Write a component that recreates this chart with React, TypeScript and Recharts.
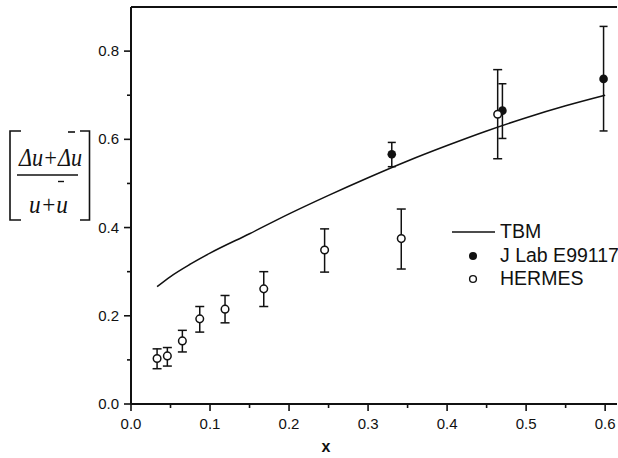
import {
  ComposedChart,
  Line,
  Scatter,
  ErrorBar,
  XAxis,
  YAxis,
  ReferenceLine,
  Legend,
} from "recharts";

// TBM model curve
const tbmX = [0.033, 0.05, 0.075, 0.1, 0.15, 0.2, 0.25, 0.3, 0.35, 0.4, 0.45, 0.5, 0.55, 0.6];
const tbmY = [0.266, 0.289, 0.317, 0.342, 0.386, 0.431, 0.473, 0.513, 0.551, 0.586, 0.619, 0.649, 0.676, 0.7];

// HERMES (open circles)
const hermesX = [0.033, 0.046, 0.065, 0.087, 0.119, 0.168, 0.245, 0.342, 0.464];
const hermesY = [0.103, 0.109, 0.143, 0.193, 0.215, 0.261, 0.349, 0.375, 0.657];
const hermesLow = [0.08, 0.086, 0.118, 0.163, 0.184, 0.221, 0.299, 0.306, 0.556];
const hermesHigh = [0.125, 0.128, 0.167, 0.221, 0.246, 0.3, 0.397, 0.442, 0.758];

// J Lab E99117 (filled circles)
const jlabX = [0.33, 0.47, 0.598];
const jlabY = [0.566, 0.665, 0.737];
const jlabLow = [0.538, 0.602, 0.619];
const jlabHigh = [0.593, 0.726, 0.856];

const xTicks = [0, 0.05, 0.1, 0.15, 0.2, 0.25, 0.3, 0.35, 0.4, 0.45, 0.5, 0.55, 0.6];
const yTicks = [0, 0.1, 0.2, 0.3, 0.4, 0.5, 0.6, 0.7, 0.8];

const legendItems = ["TBM", "J Lab E99117", "HERMES"];

const tbmData = tbmX.map((x, i) => ({ x, y: tbmY[i] }));
const toPoints = (xs: number[], ys: number[], lo: number[], hi: number[]) =>
  xs.map((x, i) => ({ x, y: ys[i], err: [ys[i] - lo[i], hi[i] - ys[i]] }));
const hermesData = toPoints(hermesX, hermesY, hermesLow, hermesHigh);
const jlabData = toPoints(jlabX, jlabY, jlabLow, jlabHigh);

const INK = "#111";
const SANS = "Arial, 'Liberation Sans', Helvetica, sans-serif";
const SERIF = "'Liberation Serif', 'Times New Roman', serif";

const isMajor = (v: number) => Math.abs(v * 10 - Math.round(v * 10)) < 1e-6;

const XTick = ({ x, y, payload }: any) => {
  const major = isMajor(payload.value);
  return (
    <g>
      <line x1={x} y1={y} x2={x} y2={y + (major ? 7 : 4)} stroke={INK} strokeWidth={1.6} />
      {major && (
        <text x={x} y={y + 25} textAnchor="middle" fontSize={15} fontFamily={SANS} fill={INK}>
          {payload.value.toFixed(1)}
        </text>
      )}
    </g>
  );
};

const YTick = ({ x, y, payload }: any) => {
  const major = isMajor(payload.value / 2);
  return (
    <g>
      <line x1={x} y1={y} x2={x - (major ? 7 : 4)} y2={y} stroke={INK} strokeWidth={1.6} />
      {major && (
        <text x={x - 12} y={y + 5} textAnchor="end" fontSize={15} fontFamily={SANS} fill={INK}>
          {payload.value.toFixed(1)}
        </text>
      )}
    </g>
  );
};

// bracketed ratio (Δu+Δū)/(u+ū) used as y-axis title
const YLabel = () => (
  <g fontFamily={SERIF} fill={INK} fontStyle="italic">
    <path d="M21,131 H10 V220 H21" fill="none" stroke={INK} strokeWidth={1.6} />
    <path d="M80,131 H89.5 V220 H80" fill="none" stroke={INK} strokeWidth={1.6} />
    <text x={50.5} y={166} fontSize={25} textAnchor="middle" textLength={63} lengthAdjust="spacingAndGlyphs">
      Δu+Δu
    </text>
    <line x1={68} x2={75} y1={132} y2={132} stroke={INK} strokeWidth={1.6} />
    <line x1={17} x2={78} y1={175} y2={175} stroke={INK} strokeWidth={1.5} />
    <line x1={58} x2={64} y1={181.5} y2={181.5} stroke={INK} strokeWidth={1.4} />
    <text x={48.5} y={212.5} fontSize={25} textAnchor="middle" textLength={39} lengthAdjust="spacingAndGlyphs">
      u+u
    </text>
  </g>
);

const XLabel = () => (
  <text x={326} y={452} textAnchor="middle" fontSize={16} fontWeight="bold" fontFamily={SANS} fill={INK}>
    x
  </text>
);

const LegendBox = () => (
  <div style={{ fontFamily: SANS, fontSize: 19.5, color: INK, lineHeight: "23.5px" }}>
    {legendItems.map((name, i) => (
      <div key={name} style={{ display: "flex", alignItems: "center", height: 23.5 }}>
        <svg width={48} height={23.5}>
          {i === 0 && <line x1={0} x2={43} y1={12} y2={12} stroke={INK} strokeWidth={1.5} />}
          {i === 1 && <circle cx={21} cy={12} r={4} fill={INK} />}
          {i === 2 && <circle cx={21} cy={12} r={3.4} fill="#fff" stroke={INK} strokeWidth={1.4} />}
        </svg>
        <span>{name}</span>
      </div>
    ))}
  </div>
);

const OpenDot = (p: any) => (
  <circle cx={p.cx} cy={p.cy} r={3.8} fill="#fff" stroke={INK} strokeWidth={1.5} />
);
const FilledDot = (p: any) => <circle cx={p.cx} cy={p.cy} r={4.3} fill={INK} />;

export default function App() {
  return (
    <div
      style={{
        position: "absolute",
        left: 0,
        top: 0,
        width: 618,
        height: 458,
        background: "#fff",
        overflow: "hidden",
      }}
    >
      <ComposedChart width={618} height={458} margin={{ top: 7, right: 1, bottom: 0, left: 0 }}>
        <XAxis
          type="number"
          dataKey="x"
          domain={[0, 0.615]}
          ticks={xTicks}
          interval={0}
          height={54}
          tickLine={false}
          tick={<XTick />}
          tickSize={0}
          tickMargin={0}
          stroke={INK}
          axisLine={{ stroke: INK, strokeWidth: 2 }}
          label={{ content: () => <XLabel /> }}
        />
        <YAxis
          type="number"
          dataKey="y"
          domain={[0, 0.9]}
          ticks={yTicks}
          interval={0}
          width={131}
          tickLine={false}
          tick={<YTick />}
          tickSize={0}
          tickMargin={0}
          stroke={INK}
          axisLine={{ stroke: INK, strokeWidth: 2 }}
          label={{ content: () => <YLabel /> }}
        />
        {/* top frame line */}
        <ReferenceLine y={0.9} stroke={INK} strokeWidth={2} ifOverflow="visible" />
        <Line
          data={tbmData}
          dataKey="y"
          type="monotone"
          stroke={INK}
          strokeWidth={1.5}
          dot={false}
          isAnimationActive={false}
        />
        <Scatter data={jlabData} dataKey="y" shape={<FilledDot />} isAnimationActive={false}>
          <ErrorBar dataKey="err" direction="y" width={4} stroke={INK} strokeWidth={1.5} />
        </Scatter>
        <Scatter data={hermesData} dataKey="y" shape={<OpenDot />} isAnimationActive={false}>
          <ErrorBar dataKey="err" direction="y" width={4.5} stroke={INK} strokeWidth={1.5} />
        </Scatter>
        <Legend
          layout="vertical"
          align="center"
          verticalAlign="middle"
          content={<LegendBox />}
          wrapperStyle={{ left: 452, top: 220, width: 170 }}
        />
      </ComposedChart>
    </div>
  );
}
